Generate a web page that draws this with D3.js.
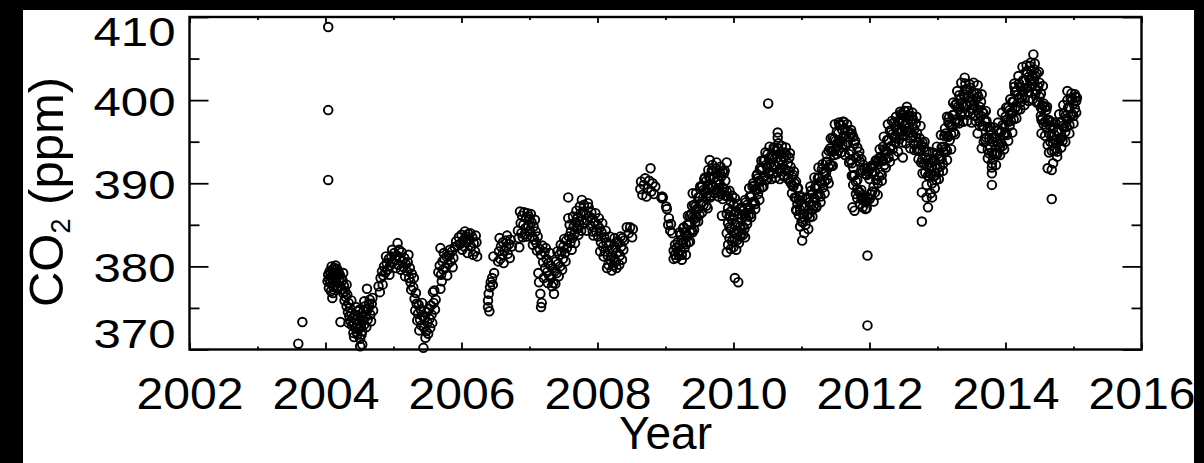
<!DOCTYPE html>
<html>
<head>
<meta charset="utf-8">
<script src="https://cdn.jsdelivr.net/npm/d3@7"></script>
<style>
  html, body { margin: 0; padding: 0; background: #000; }
  svg { display: block; }
  text { font-family: "Liberation Sans", Arial, Helvetica, sans-serif; fill: #000; }
</style>
</head>
<body>
<svg id="chart" width="1204" height="463"></svg>
<script>
// Axis ticks
const yearTicks = [2002, 2004, 2006, 2008, 2010, 2012, 2014, 2016];
const yearMinorTicks = [2003, 2005, 2007, 2009, 2011, 2013, 2015];
const ppmTicks = [370, 380, 390, 400, 410];
const ppmMinorTicks = [375, 385, 395, 405];

// CO2 observations: [decimal year, ppm]
const co2_2003 = [[2003.60,370.7],[2003.66,373.3]];

const co2_2004 = [
[2004.04,408.8],[2004.04,398.8],[2004.04,390.4],
[2004.03,378.2],[2004.04,379.0],[2004.05,378.5],[2004.06,379.4],[2004.07,378.0],[2004.08,379.2],[2004.09,378.7],[2004.10,379.6],[2004.10,376.2],[2004.11,376.8],[2004.11,378.3],[2004.12,379.1],[2004.13,379.8],[2004.14,378.6],[2004.15,379.3],[2004.16,378.1],[2004.17,379.7],[2004.18,378.9],[2004.19,379.4],[2004.20,378.4],[2004.21,379.0],[2004.22,377.6],[2004.22,373.3],[2004.23,378.6],[2004.24,377.2],[2004.25,378.3],[2004.26,376.8],[2004.27,377.7],[2004.28,375.9],[2004.29,377.0],
[2004.05,377.4],[2004.08,377.0],[2004.12,377.5],[2004.15,380.1],[2004.18,377.3],[2004.09,380.0],[2004.26,379.2],[2004.31,377.8],
[2004.30,376.3],[2004.31,375.2],[2004.32,376.6],[2004.33,374.5],[2004.34,375.6],[2004.35,374.0],[2004.36,375.0],[2004.37,373.4],[2004.38,374.4],[2004.39,372.9],[2004.40,373.8],[2004.41,372.0],[2004.42,373.2],[2004.43,374.2],[2004.44,372.6],[2004.45,373.6],[2004.46,372.1],[2004.47,373.1],[2004.48,374.6],[2004.49,372.5],[2004.50,373.5],[2004.51,371.3],[2004.51,370.4],[2004.52,372.8],[2004.53,374.0],[2004.54,372.2],[2004.54,370.6],[2004.55,373.4],[2004.56,374.6],[2004.57,373.0],[2004.58,375.2],[2004.59,373.9],[2004.60,374.8],[2004.61,377.3],[2004.62,373.6],[2004.63,374.9],[2004.64,375.5],[2004.66,374.2],[2004.68,375.5],[2004.70,374.7],
[2004.34,373.2],[2004.38,375.9],[2004.42,371.5],[2004.45,375.1],[2004.47,371.8],[2004.50,374.8],[2004.53,371.8],[2004.57,375.8],[2004.60,372.7],[2004.65,376.0],[2004.67,373.4],[2004.69,376.2],
[2004.78,377.6],[2004.80,376.9],[2004.81,378.6],[2004.83,379.4],[2004.85,378.9],[2004.86,380.0],[2004.88,379.3],[2004.90,380.4],[2004.91,379.6],[2004.93,380.9],[2004.95,380.1],[2004.97,381.2],[2004.99,380.5],
[2004.84,377.8],[2004.89,381.2],[2004.94,379.0],[2004.98,382.0]
];

const co2_2005 = [
[2005.01,381.6],[2005.03,380.8],[2005.05,381.3],[2005.06,382.8],[2005.07,380.2],[2005.09,381.0],[2005.11,379.6],[2005.13,380.6],[2005.15,379.9],[2005.16,381.0],[2005.18,380.3],[2005.20,379.4],[2005.21,380.5],[2005.23,378.6],[2005.24,379.8],[2005.25,378.1],[2005.27,379.1],[2005.29,377.5],[2005.30,378.6],
[2005.04,379.8],[2005.08,382.0],[2005.12,381.7],[2005.17,378.8],[2005.22,381.4],[2005.26,377.2],
[2005.31,376.1],[2005.32,374.7],[2005.34,375.5],[2005.35,373.5],[2005.36,374.3],[2005.38,372.3],[2005.39,373.6],[2005.40,374.8],[2005.41,372.9],[2005.43,374.0],[2005.44,370.2],[2005.45,372.6],[2005.46,373.8],[2005.48,372.2],[2005.49,374.5],[2005.50,373.2],[2005.52,374.9],[2005.53,373.7],[2005.55,375.3],[2005.56,374.2],[2005.58,376.9],[2005.59,375.6],[2005.61,374.8],[2005.62,376.0],[2005.69,377.3],
[2005.33,376.8],[2005.37,375.4],[2005.42,375.6],[2005.47,371.4],[2005.51,371.9],[2005.54,372.6],[2005.57,373.2],[2005.60,377.1],
[2005.69,382.2],[2005.66,379.3],[2005.68,380.1],[2005.70,379.0],[2005.72,380.6],[2005.73,379.6],[2005.75,380.9],[2005.77,379.9],[2005.78,381.2],[2005.80,380.3],[2005.82,381.3],[2005.84,380.6],[2005.86,381.8],[2005.88,381.0],
[2005.71,378.2],[2005.74,381.6],[2005.79,378.9],[2005.83,382.0],[2005.87,379.9],
[2005.90,382.3],[2005.92,383.0],[2005.94,382.5],[2005.96,383.5],[2005.98,382.7]
];

const co2_2006 = [
[2006.00,383.8],[2006.02,383.1],[2006.04,382.4],[2006.06,383.6],[2006.08,382.9],[2006.10,383.9],[2006.12,383.2],[2006.14,382.4],[2006.16,383.5],[2006.18,382.8],[2006.20,381.8],[2006.22,382.9],[2006.23,381.2],
[2006.01,382.0],[2006.05,384.2],[2006.09,381.6],[2006.13,384.0],[2006.17,381.4],[2006.21,383.7],
[2006.39,375.1],[2006.39,375.9],[2006.40,376.7],[2006.41,374.6],[2006.42,377.5],[2006.43,378.1],[2006.45,378.6],[2006.46,377.8],[2006.47,381.2],[2006.48,379.2],
[2006.54,380.6],[2006.55,381.8],[2006.57,380.9],[2006.58,382.4],[2006.60,381.4],[2006.61,382.9],[2006.63,381.9],[2006.65,383.1],[2006.66,382.3],[2006.68,381.5],[2006.70,382.7],[2006.72,383.2],[2006.74,382.4],
[2006.56,383.4],[2006.62,380.4],[2006.67,383.7],[2006.71,381.0],
[2006.83,384.3],[2006.84,383.4],[2006.85,382.3],[2006.87,385.2],[2006.88,384.0],[2006.89,386.1],[2006.91,385.0],[2006.92,386.5],[2006.94,384.6],[2006.95,385.8],[2006.97,386.4],[2006.98,384.9],
[2006.86,386.6],[2006.90,383.5],[2006.93,383.9],[2006.96,383.6],[2006.99,386.0]
];

const co2_2007 = [
[2007.00,385.7],[2007.01,384.2],[2007.03,385.3],[2007.04,383.6],[2007.06,384.8],[2007.07,383.2],[2007.09,384.2],[2007.10,382.8],[2007.12,383.6],[2007.13,379.2],[2007.14,378.1],[2007.15,382.1],[2007.16,376.7],[2007.17,375.1],[2007.18,375.6],[2007.17,381.4],[2007.19,382.5],[2007.20,380.5],[2007.22,381.7],[2007.23,379.8],[2007.25,380.9],[2007.26,379.3],[2007.28,380.4],[2007.29,378.9],[2007.31,380.1],[2007.32,378.6],[2007.34,379.8],[2007.35,378.0],[2007.36,376.7],[2007.37,379.4],[2007.39,380.6],[2007.40,379.2],[2007.42,380.3],[2007.44,381.4],[2007.45,380.0],[2007.47,381.8],[2007.49,380.9],[2007.50,382.4],[2007.52,381.6],[2007.54,383.1],[2007.55,382.2],
[2007.02,386.3],[2007.05,382.6],[2007.08,385.6],[2007.11,381.9],[2007.21,378.6],[2007.24,382.2],[2007.27,378.0],[2007.30,381.6],[2007.33,377.6],[2007.38,377.9],[2007.41,381.8],[2007.43,378.8],[2007.46,382.6],[2007.48,379.6],[2007.51,383.3],[2007.53,380.6],
[2007.57,388.3],[2007.57,385.8],[2007.58,383.6],[2007.60,382.8],[2007.61,384.2],[2007.63,383.4],[2007.65,384.8],[2007.66,383.9],[2007.68,385.3],[2007.70,384.5],[2007.71,385.9],[2007.73,385.0],[2007.75,386.4],[2007.77,388.0],[2007.77,385.6],[2007.79,386.6],[2007.81,385.2],[2007.83,386.2],[2007.86,387.6],[2007.85,385.5],[2007.88,386.0],[2007.90,384.9],[2007.92,385.8],[2007.94,383.7],[2007.96,385.3],[2007.98,384.2],
[2007.59,385.0],[2007.62,382.0],[2007.64,386.0],[2007.67,382.8],[2007.69,386.7],[2007.72,383.8],[2007.74,387.2],[2007.76,384.3],[2007.80,387.4],[2007.84,384.3],[2007.87,387.1],[2007.91,386.5],[2007.93,384.2],[2007.97,386.4]
];

const co2_2008 = [
[2008.00,385.0],[2008.01,383.6],[2008.03,384.6],[2008.05,382.9],[2008.06,384.1],[2008.08,382.4],[2008.10,383.5],[2008.11,381.8],[2008.13,382.9],[2008.14,379.8],[2008.15,381.3],[2008.17,382.5],[2008.19,380.8],[2008.21,379.5],[2008.22,382.0],[2008.24,381.0],[2008.26,382.3],[2008.27,380.6],[2008.29,381.7],[2008.31,382.8],[2008.33,381.3],[2008.35,382.4],[2008.37,383.4],[2008.38,382.0],
[2008.02,385.8],[2008.04,381.8],[2008.07,385.2],[2008.09,381.2],[2008.12,384.3],[2008.16,380.2],[2008.18,383.6],[2008.20,381.2],[2008.23,380.1],[2008.25,383.4],[2008.28,379.8],[2008.30,383.0],[2008.32,380.2],[2008.34,383.6],[2008.36,380.8],[2008.39,383.1],
[2008.43,384.7],[2008.46,384.0],[2008.48,384.7],[2008.51,383.5],[2008.52,384.5],
[2008.63,389.3],[2008.64,390.2],[2008.66,388.6],[2008.68,389.8],[2008.70,390.6],[2008.72,388.4],[2008.74,389.4],[2008.76,390.3],[2008.78,391.8],[2008.79,389.0],[2008.81,390.0],[2008.83,388.7],[2008.85,389.6],
[2008.94,388.3],[2008.95,388.4],[2008.95,388.2],[2008.96,388.3]
];

const co2_2009 = [
[2009.01,387.2],[2009.02,386.9],[2009.04,385.0],[2009.05,385.8],[2009.07,384.3],[2009.08,385.1],[2009.10,384.0],
[2009.12,381.9],[2009.12,380.9],[2009.14,381.4],[2009.14,382.6],[2009.16,381.0],[2009.16,382.2],[2009.18,381.7],[2009.18,382.9],[2009.20,381.3],[2009.20,382.5],
[2009.22,383.8],[2009.22,381.9],[2009.24,383.2],[2009.24,381.4],[2009.26,384.6],[2009.26,382.9],[2009.28,384.1],[2009.28,382.2],[2009.30,383.7],[2009.30,382.7],[2009.32,385.0],[2009.32,383.6],[2009.34,385.0],[2009.34,382.9],[2009.36,386.1],[2009.36,384.1],[2009.38,386.3],[2009.38,384.4],[2009.40,385.9],[2009.40,384.1],[2009.40,388.8],
[2009.42,387.4],[2009.42,385.7],[2009.44,387.2],[2009.44,385.3],[2009.46,386.9],[2009.46,385.9],[2009.48,388.3],[2009.48,386.9],[2009.50,388.3],[2009.50,386.2],[2009.52,389.5],[2009.52,387.5],[2009.54,389.7],[2009.54,387.8],[2009.56,389.2],[2009.56,387.4],[2009.58,390.7],[2009.58,389.0],[2009.60,390.3],[2009.60,388.4],
[2009.62,389.8],[2009.62,388.8],[2009.62,387.0],[2009.64,390.8],[2009.64,389.4],[2009.65,392.8],[2009.66,390.6],[2009.66,388.5],[2009.68,391.5],[2009.68,389.5],[2009.70,391.5],[2009.70,389.6],[2009.72,390.7],[2009.72,388.9],[2009.74,391.8],[2009.74,390.1],[2009.76,391.1],[2009.76,389.2],[2009.78,390.4],[2009.78,389.4],[2009.80,391.3],[2009.80,389.9],[2009.82,390.8],[2009.82,388.7],[2009.83,386.1],[2009.84,391.5],[2009.84,389.5],[2009.86,391.2],[2009.86,389.3],[2009.88,390.3],[2009.88,388.5],
[2009.21,384.1],[2009.24,380.8],[2009.27,384.7],[2009.30,381.4],[2009.33,386.1],[2009.36,383.0],[2009.39,387.3],[2009.42,384.4],[2009.45,388.8],[2009.48,385.4],[2009.51,389.6],[2009.54,386.5],[2009.57,390.5],[2009.60,387.3],[2009.63,391.6],[2009.66,388.3],[2009.69,392.2],[2009.72,388.8],[2009.75,392.5],[2009.78,388.4],[2009.81,392.0],[2009.84,388.1],[2009.87,391.5],
[2009.90,392.5],[2009.90,389.0],[2009.90,386.3],[2009.90,381.7],[2009.90,384.0],[2009.92,388.4],[2009.92,385.2],[2009.92,382.6],[2009.92,387.0],[2009.94,389.1],[2009.94,386.0],[2009.94,383.4],[2009.94,384.7],[2009.96,387.8],[2009.96,384.5],[2009.96,382.1],[2009.96,386.6],[2009.98,388.5],[2009.98,385.6],[2009.98,383.0]
];

const co2_2010 = [
[2010.00,387.4],[2010.00,384.1],[2010.00,382.3],[2010.00,386.2],[2010.02,388.2],[2010.02,385.0],[2010.02,383.3],[2010.02,378.6],[2010.04,386.7],[2010.04,383.9],[2010.04,382.0],[2010.06,387.5],[2010.06,385.3],[2010.06,383.2],[2010.07,378.1],[2010.08,386.3],[2010.08,384.2],[2010.08,382.8],[2010.10,386.9],[2010.10,384.8],[2010.10,383.6],[2010.12,385.8],[2010.12,384.0],[2010.12,387.1],
[2010.14,386.7],[2010.14,384.8],[2010.16,386.3],[2010.16,384.5],[2010.17,383.5],[2010.18,387.7],[2010.18,386.0],[2010.20,387.4],[2010.20,385.5],[2010.22,387.1],[2010.22,386.1],[2010.24,388.4],[2010.24,387.0],[2010.26,388.4],[2010.26,386.3],[2010.28,389.6],[2010.28,387.6],[2010.30,389.7],[2010.30,387.8],[2010.32,389.3],[2010.32,387.5],[2010.34,390.9],[2010.34,389.2],[2010.36,390.6],[2010.36,388.7],[2010.38,390.3],[2010.38,389.3],[2010.39,391.8],
[2010.40,391.6],[2010.40,390.2],[2010.42,391.6],[2010.42,389.5],[2010.44,392.7],[2010.44,390.7],[2010.46,392.8],[2010.46,390.9],[2010.48,392.2],[2010.48,390.4],[2010.50,393.5],[2010.50,391.8],[2010.51,399.6],[2010.52,393.0],[2010.52,391.1],[2010.54,392.4],[2010.54,391.4],[2010.56,393.4],[2010.56,392.0],[2010.58,393.2],[2010.58,391.2],[2010.60,394.1],[2010.60,392.1],
[2010.62,393.9],[2010.62,392.0],[2010.64,393.1],[2010.64,391.3],[2010.65,396.1],[2010.65,395.5],[2010.66,394.8],[2010.66,394.2],[2010.66,392.5],[2010.68,393.5],[2010.68,391.6],[2010.70,392.8],[2010.70,391.8],[2010.72,393.6],[2010.72,392.2],[2010.74,393.1],[2010.74,391.0],[2010.76,393.7],[2010.76,391.7],[2010.78,393.4],[2010.78,391.5],[2010.80,392.4],[2010.80,390.6],
[2010.82,393.1],[2010.82,391.4],[2010.84,392.0],[2010.84,390.1],[2010.86,390.8],[2010.86,389.8],[2010.88,391.0],[2010.88,389.6],[2010.90,390.0],[2010.90,388.3],[2010.92,390.2],[2010.92,388.2],[2010.93,386.7],[2010.94,389.4],[2010.94,387.5],[2010.96,388.0],[2010.96,386.2],[2010.98,388.5],[2010.98,386.8],
[2010.14,383.8],[2010.17,388.0],[2010.20,385.1],[2010.23,389.4],[2010.26,385.9],[2010.29,390.0],[2010.32,386.9],[2010.35,391.1],[2010.38,388.0],[2010.41,392.7],[2010.44,389.6],[2010.47,393.7],[2010.50,390.5],[2010.53,394.4],[2010.56,390.5],[2010.59,394.3],[2010.62,390.7],[2010.65,394.2],[2010.68,390.5],[2010.71,394.5],[2010.74,390.8],[2010.77,394.3],[2010.80,390.5],[2010.83,393.6],[2010.86,388.8],[2010.89,391.4],[2010.92,386.8],[2010.95,389.4],[2010.98,384.8]
];

const co2_2011 = [
[2011.00,387.3],[2011.00,385.4],[2011.01,383.1],[2011.02,386.3],[2011.02,385.3],[2011.04,387.3],[2011.04,385.9],[2011.06,387.1],[2011.06,385.0],[2011.08,388.1],[2011.08,386.1],[2011.10,388.2],[2011.10,386.3],[2011.12,387.7],[2011.12,385.9],[2011.14,389.1],[2011.14,387.4],[2011.16,388.7],[2011.16,386.8],[2011.18,388.3],[2011.18,387.3],[2011.20,389.5],[2011.20,388.1],
[2011.22,389.4],[2011.22,387.3],[2011.24,390.6],[2011.24,388.6],[2011.26,390.7],[2011.26,388.8],[2011.28,390.2],[2011.28,388.4],[2011.30,391.7],[2011.30,390.0],[2011.32,391.4],[2011.32,389.5],[2011.34,391.2],[2011.34,390.2],[2011.36,392.6],[2011.36,391.2],[2011.38,392.6],[2011.38,390.5],[2011.40,393.9],[2011.40,391.9],
[2011.42,394.2],[2011.42,392.3],[2011.44,393.9],[2011.44,392.1],[2011.46,395.5],[2011.46,393.8],[2011.48,395.3],[2011.48,393.4],[2011.50,395.1],[2011.50,394.1],[2011.52,396.2],[2011.52,394.8],[2011.54,396.0],[2011.54,393.9],[2011.56,397.0],[2011.56,395.0],[2011.58,397.0],[2011.58,395.1],[2011.60,396.4],[2011.60,394.6],
[2011.62,397.4],[2011.62,395.7],[2011.64,396.5],[2011.64,394.6],[2011.66,395.6],[2011.66,394.6],[2011.68,396.3],[2011.68,394.9],[2011.70,395.6],[2011.70,393.5],[2011.72,395.9],[2011.72,392.8],[2011.72,393.9],[2011.74,396.0],[2011.74,392.4],[2011.74,390.9],[2011.75,387.1],[2011.76,395.6],[2011.76,391.9],[2011.76,389.8],[2011.78,394.8],[2011.78,391.0],[2011.78,386.7],[2011.80,393.1],[2011.80,390.2],[2011.80,388.7],
[2011.82,394.3],[2011.82,390.4],[2011.82,388.2],[2011.84,393.3],[2011.84,389.0],[2011.86,392.6],[2011.86,388.9],[2011.86,387.5],[2011.88,392.9],[2011.88,389.2],[2011.90,391.5],[2011.90,388.0],[2011.90,387.1],[2011.92,391.8],[2011.92,388.3],[2011.94,391.1],[2011.94,387.7],[2011.94,386.9],[2011.96,391.0],[2011.96,387.9],[2011.96,387.0],[2011.97,381.3],[2011.97,372.9],[2011.98,391.4],[2011.98,388.3],
[2011.01,388.3],[2011.04,384.0],[2011.07,388.3],[2011.10,384.5],[2011.13,389.6],[2011.16,386.0],[2011.19,390.7],[2011.22,387.1],[2011.25,391.9],[2011.28,387.7],[2011.31,392.3],[2011.34,388.8],[2011.37,393.5],[2011.40,390.0],[2011.43,395.4],[2011.46,392.1],[2011.49,397.1],[2011.52,393.5],[2011.55,397.3],[2011.58,393.7],[2011.61,397.4],[2011.64,393.4],[2011.67,397.1],[2011.70,392.5],[2011.73,396.4],[2011.76,390.9],[2011.79,395.1],[2011.82,389.3],[2011.85,393.8],[2011.88,388.3],[2011.91,392.2],[2011.94,387.8],[2011.97,391.8]
];

const co2_2012 = [
[2012.00,390.5],[2012.00,388.1],[2012.02,391.8],[2012.02,388.7],[2012.04,391.2],[2012.04,389.0],[2012.06,392.1],[2012.06,389.6],[2012.08,391.4],[2012.08,388.9],[2012.10,392.8],[2012.10,390.4],[2012.12,392.6],[2012.12,390.0],[2012.14,393.0],[2012.14,390.8],
[2012.16,393.2],[2012.16,391.3],[2012.18,392.8],[2012.18,391.0],[2012.20,394.4],[2012.20,392.7],[2012.22,394.1],[2012.22,392.2],[2012.24,393.9],[2012.24,392.9],[2012.26,395.2],[2012.26,393.8],[2012.28,395.2],[2012.28,393.1],[2012.30,396.3],[2012.30,394.3],[2012.32,396.4],[2012.32,394.5],[2012.34,395.9],[2012.34,394.1],[2012.36,397.3],[2012.36,395.6],[2012.38,396.8],[2012.38,394.9],[2012.40,396.4],[2012.40,395.4],
[2012.42,397.5],[2012.42,396.1],[2012.44,397.3],[2012.44,395.3],[2012.46,398.3],[2012.46,396.3],[2012.48,398.2],[2012.48,396.3],[2012.49,393.1],[2012.50,397.5],[2012.50,395.7],[2012.52,398.7],[2012.52,397.0],[2012.54,398.1],[2012.54,396.2],[2012.55,399.2],[2012.56,397.3],[2012.56,396.3],[2012.58,398.1],[2012.58,396.7],[2012.60,397.5],[2012.60,395.4],
[2012.62,398.1],[2012.62,396.1],[2012.64,397.7],[2012.64,395.7],[2012.66,396.5],[2012.66,394.7],[2012.68,397.2],[2012.68,395.5],[2012.70,396.0],[2012.70,394.1],[2012.72,394.9],[2012.72,393.9],[2012.74,395.4],[2012.74,394.0],[2012.76,394.6],[2012.76,392.5],[2012.77,388.9],[2012.77,385.4],[2012.78,394.9],[2012.78,392.9],[2012.80,394.3],[2012.80,392.4],
[2012.82,393.1],[2012.82,391.3],[2012.84,393.8],[2012.84,392.1],[2012.84,388.3],[2012.86,392.8],[2012.86,390.9],[2012.86,387.1],[2012.88,391.8],[2012.88,390.8],[2012.90,392.5],[2012.90,391.1],[2012.92,392.0],[2012.92,390.0],[2012.92,388.3],[2012.94,392.8],[2012.94,390.8],[2012.96,392.7],[2012.96,390.9],[2012.98,392.2],[2012.98,390.4],
[2012.00,388.1],[2012.03,392.1],[2012.06,387.8],[2012.09,392.7],[2012.12,388.6],[2012.15,394.1],[2012.18,390.3],[2012.21,395.6],[2012.24,391.9],[2012.27,397.1],[2012.30,392.6],[2012.33,397.5],[2012.36,393.3],[2012.39,398.0],[2012.42,393.8],[2012.45,398.6],[2012.48,394.9],[2012.51,398.7],[2012.54,394.8],[2012.57,398.7],[2012.60,394.2],[2012.63,398.5],[2012.66,394.0],[2012.69,398.0],[2012.72,392.9],[2012.75,396.9],[2012.78,391.2],[2012.81,395.0],[2012.84,389.8],[2012.87,393.8],[2012.90,388.8],[2012.93,393.7],[2012.96,389.4],[2012.99,394.4]
];

const co2_2013 = [
[2013.00,393.5],[2013.00,391.8],[2013.02,393.2],[2013.02,391.3],[2013.04,393.0],[2013.04,392.0],[2013.06,394.3],[2013.06,392.9],[2013.08,394.4],[2013.08,392.3],[2013.10,395.7],[2013.10,393.7],[2013.12,396.0],[2013.12,394.1],[2013.14,395.7],[2013.14,393.9],[2013.14,398.0],
[2013.16,397.3],[2013.16,395.6],[2013.18,397.1],[2013.18,395.2],[2013.20,396.9],[2013.20,395.9],[2013.22,398.2],[2013.22,396.8],[2013.24,398.2],[2013.24,396.1],[2013.26,399.4],[2013.26,397.4],[2013.28,399.6],[2013.28,397.7],[2013.30,399.2],[2013.30,397.4],[2013.32,400.6],[2013.32,398.9],[2013.34,400.1],[2013.34,398.2],[2013.36,399.6],[2013.36,398.6],[2013.38,400.7],[2013.38,399.3],[2013.40,400.4],[2013.40,398.3],[2013.40,402.7],
[2013.42,401.3],[2013.42,399.3],[2013.44,401.2],[2013.44,399.3],[2013.46,400.4],[2013.46,398.6],[2013.48,401.5],[2013.48,399.8],[2013.50,400.8],[2013.50,398.9],[2013.52,400.0],[2013.52,399.0],[2013.54,400.8],[2013.54,399.4],[2013.56,400.2],[2013.56,398.1],[2013.58,400.8],[2013.58,398.8],[2013.59,396.0],[2013.60,400.4],[2013.60,398.5],
[2013.62,399.2],[2013.62,397.4],[2013.64,399.8],[2013.64,398.1],[2013.65,394.2],[2013.66,398.6],[2013.66,396.9],[2013.68,398.4],[2013.68,396.9],[2013.70,397.4],[2013.70,395.3],[2013.72,397.5],[2013.72,395.5],[2013.74,396.7],[2013.74,394.1],[2013.76,395.4],[2013.76,393.6],[2013.78,396.3],[2013.78,394.3],[2013.80,395.4],[2013.80,393.7],[2013.80,392.4],[2013.80,391.2],[2013.80,389.8],
[2013.82,395.0],[2013.82,392.9],[2013.84,395.6],[2013.84,393.6],[2013.86,395.5],[2013.86,393.5],[2013.88,395.0],[2013.88,393.5],[2013.90,396.4],[2013.90,394.7],[2013.92,396.1],[2013.92,394.4],[2013.94,396.2],[2013.94,394.8],[2013.96,397.0],[2013.96,394.5],[2013.98,396.8],[2013.98,395.8],
[2013.02,390.5],[2013.05,395.8],[2013.08,391.5],[2013.11,396.6],[2013.14,392.8],[2013.17,397.9],[2013.20,394.1],[2013.23,399.7],[2013.26,395.9],[2013.29,401.1],[2013.32,397.2],[2013.35,402.1],[2013.38,397.4],[2013.41,402.0],[2013.44,397.5],[2013.47,401.9],[2013.50,397.3],[2013.53,402.1],[2013.56,397.5],[2013.59,401.8],[2013.62,396.9],[2013.65,400.7],[2013.68,395.0],[2013.71,398.7],[2013.74,393.0],[2013.77,396.8],[2013.80,391.9],[2013.83,396.7],[2013.86,392.2],[2013.89,397.3],[2013.92,393.4],[2013.95,398.5],[2013.98,394.1]
];

const co2_2014 = [
[2014.00,398.0],[2014.00,396.1],[2014.02,397.6],[2014.02,395.8],[2014.04,399.1],[2014.04,397.4],[2014.06,398.8],[2014.06,396.9],[2014.08,398.5],[2014.08,397.5],[2014.10,399.8],[2014.10,398.4],[2014.12,399.8],[2014.12,397.7],[2014.13,402.0],[2014.14,401.0],[2014.14,399.0],[2014.16,401.1],[2014.16,399.2],[2014.18,400.6],[2014.18,398.8],[2014.20,402.0],[2014.20,400.3],
[2014.22,401.6],[2014.22,399.7],[2014.24,401.2],[2014.24,400.2],[2014.26,402.4],[2014.26,401.0],[2014.28,402.3],[2014.28,400.2],[2014.30,403.4],[2014.30,401.4],[2014.32,403.4],[2014.32,401.5],[2014.34,402.8],[2014.34,401.0],[2014.36,404.1],[2014.36,402.4],[2014.38,403.5],[2014.38,401.6],[2014.40,402.9],[2014.40,401.9],[2014.41,405.5],
[2014.42,403.7],[2014.42,402.3],[2014.44,402.9],[2014.44,400.8],[2014.46,403.2],[2014.46,401.2],[2014.48,401.6],[2014.48,399.8],[2014.50,402.1],[2014.50,400.4],[2014.52,400.8],[2014.52,399.1],[2014.53,397.6],[2014.53,396.0],[2014.54,399.4],[2014.54,398.9],[2014.54,397.8],[2014.56,399.6],[2014.56,397.1],[2014.58,399.2],[2014.58,397.4],[2014.60,398.8],[2014.60,396.7],
[2014.62,397.6],[2014.62,394.6],[2014.62,391.8],[2014.64,397.6],[2014.64,396.0],[2014.66,396.9],[2014.66,395.0],[2014.68,395.7],[2014.68,393.9],[2014.68,391.6],[2014.68,388.1],[2014.70,396.6],[2014.70,394.9],[2014.72,395.8],[2014.72,393.9],[2014.74,395.2],[2014.74,394.2],[2014.76,396.3],[2014.76,393.8],[2014.78,396.2],[2014.78,395.0],[2014.80,397.3],[2014.80,395.3],
[2014.82,397.4],[2014.82,395.5],[2014.84,396.9],[2014.84,395.1],[2014.86,398.4],[2014.86,396.7],[2014.88,398.1],[2014.88,396.2],[2014.90,397.8],[2014.90,396.8],[2014.91,401.1],[2014.92,399.1],[2014.92,397.7],[2014.94,399.1],[2014.94,397.0],[2014.96,400.2],[2014.96,398.2],[2014.98,400.2],[2014.98,398.3],
[2014.01,399.1],[2014.04,395.1],[2014.07,400.1],[2014.10,396.1],[2014.13,401.6],[2014.16,397.8],[2014.19,402.9],[2014.22,398.9],[2014.25,404.0],[2014.28,399.4],[2014.31,404.2],[2014.34,399.9],[2014.37,404.5],[2014.40,400.1],[2014.43,404.4],[2014.46,399.7],[2014.49,403.4],[2014.52,398.1],[2014.55,401.7],[2014.58,395.7],[2014.61,399.2],[2014.64,393.7],[2014.67,397.4],[2014.70,392.4],[2014.73,397.3],[2014.76,393.2],[2014.79,398.3],[2014.82,394.3],[2014.85,399.4],[2014.88,395.0],[2014.91,400.0],[2014.94,396.0],[2014.97,400.8]
];

const co2_2015 = [
[2015.00,399.6],[2015.00,398.1],[2015.02,400.7],[2015.02,399.0],[2015.04,399.9],[2015.04,398.5],[2015.05,400.3],
[2015.00,397.2],[2015.03,400.4]
];

const observations = [].concat(
  co2_2003, co2_2004, co2_2005, co2_2006, co2_2007, co2_2008, co2_2009,
  co2_2010, co2_2011, co2_2012, co2_2013, co2_2014, co2_2015
);

// Layout
const W = 1204, H = 463;
const plot = { left: 189.5, right: 1141.5, top: 17, bottom: 349.5 };
const fontFamily = '"Liberation Sans", Arial, Helvetica, sans-serif';

const svg = d3.select("#chart");

// Page: black surround with a white sheet
svg.append("rect").attr("width", W).attr("height", H).attr("fill", "#000");
svg.append("rect")
  .attr("x", 23).attr("y", 10)
  .attr("width", 1171).attr("height", 453)
  .attr("fill", "#fff");

const x = d3.scaleLinear().domain([2002, 2016]).range([plot.left, plot.right]);
const y = d3.scaleLinear().domain([370, 410]).range([plot.bottom, plot.top]);

// Tick marks (drawn inward on all four sides)
function tickStyle(g) {
  g.select(".domain").remove();
  g.selectAll(".tick line").attr("stroke", "#000").attr("stroke-width", 1.8);
}

// Bottom axis with year labels
const gBottom = svg.append("g")
  .attr("transform", `translate(0,${plot.bottom})`)
  .call(d3.axisBottom(x).tickValues(yearTicks).tickSize(-7).tickFormat(d3.format("d")))
  .call(tickStyle);
gBottom.selectAll(".tick text")
  .attr("y", 60).attr("dy", null)
  .attr("font-size", 45)
  .attr("font-family", fontFamily)
  .attr("fill", "#000")
  .attr("transform", "scale(1.07,1)");

svg.append("g")
  .attr("transform", `translate(0,${plot.bottom})`)
  .call(d3.axisBottom(x).tickValues(yearMinorTicks).tickSize(-3).tickFormat(""))
  .call(tickStyle);

// Top axis
svg.append("g")
  .attr("transform", `translate(0,${plot.top})`)
  .call(d3.axisTop(x).tickValues(yearTicks).tickSize(-6).tickFormat(""))
  .call(tickStyle);
svg.append("g")
  .attr("transform", `translate(0,${plot.top})`)
  .call(d3.axisTop(x).tickValues(yearMinorTicks).tickSize(-3).tickFormat(""))
  .call(tickStyle);

// Left axis with ppm labels; the end labels sit inside the frame
const yLabelNudge = v => v === d3.max(ppmTicks) ? 13.5 : (v === d3.min(ppmTicks) ? -17 : 0.5);
const gLeft = svg.append("g")
  .attr("transform", `translate(${plot.left},0)`)
  .call(d3.axisLeft(y).tickValues(ppmTicks).tickSize(-19).tickFormat(d3.format("d")))
  .call(tickStyle);
gLeft.selectAll(".tick text")
  .attr("x", 0).attr("dy", null)
  .attr("y", d => yLabelNudge(d) + 14.7)
  .attr("font-size", 41)
  .attr("font-family", fontFamily)
  .attr("fill", "#000")
  .attr("text-anchor", "end")
  .attr("transform", "translate(-14,0) scale(1.2,1)");

svg.append("g")
  .attr("transform", `translate(${plot.left},0)`)
  .call(d3.axisLeft(y).tickValues(ppmMinorTicks).tickSize(-10).tickFormat(""))
  .call(tickStyle);

// Right axis
svg.append("g")
  .attr("transform", `translate(${plot.right},0)`)
  .call(d3.axisRight(y).tickValues(ppmTicks).tickSize(-19).tickFormat(""))
  .call(tickStyle);
svg.append("g")
  .attr("transform", `translate(${plot.right},0)`)
  .call(d3.axisRight(y).tickValues(ppmMinorTicks).tickSize(-10).tickFormat(""))
  .call(tickStyle);

// Frame
svg.append("rect")
  .attr("x", plot.left).attr("y", plot.top)
  .attr("width", plot.right - plot.left)
  .attr("height", plot.bottom - plot.top)
  .attr("fill", "none")
  .attr("stroke", "#000")
  .attr("stroke-width", 2.4);

// Observations as open circles
svg.append("g")
  .selectAll("circle")
  .data(observations)
  .join("circle")
  .attr("cx", d => x(d[0]))
  .attr("cy", d => y(d[1]))
  .attr("r", 4.3)
  .attr("fill", "none")
  .attr("stroke", "#000")
  .attr("stroke-width", 1.9);

// Axis titles
svg.append("text")
  .attr("x", (plot.left + plot.right) / 2)
  .attr("y", 449)
  .attr("text-anchor", "middle")
  .attr("font-size", 46)
  .attr("font-family", fontFamily)
  .text("Year");

const yTitle = svg.append("text")
  .attr("transform", "translate(63,192) rotate(-90)")
  .attr("text-anchor", "middle")
  .attr("font-size", 49)
  .attr("font-family", fontFamily);
yTitle.append("tspan").text("CO");
yTitle.append("tspan").attr("font-size", 27).attr("dy", 7).text("2");
yTitle.append("tspan").attr("dy", -7).text(" (ppm)");

// Keep the black margin on top so nothing spills past the sheet edge
svg.append("rect").attr("x", 1194).attr("y", 0).attr("width", 10).attr("height", H).attr("fill", "#000");
</script>
</body>
</html>
